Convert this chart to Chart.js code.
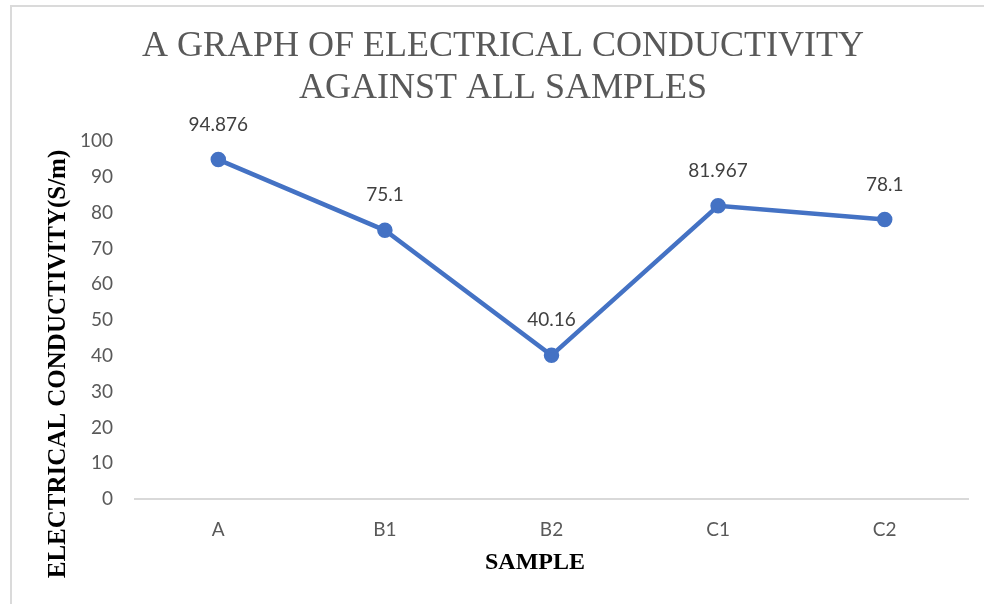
<!DOCTYPE html>
<html>
<head>
<meta charset="utf-8">
<script src="https://cdn.jsdelivr.net/npm/chart.js@4/dist/chart.umd.min.js"></script>
<style>
  html, body { margin: 0; padding: 0; background: #ffffff; overflow: hidden; }
  #frame { position: absolute; left: 10px; top: 5px; width: 2000px; height: 2000px;
           border-top: 2px solid #dadada; border-left: 2px solid #dadada; }
  #c { position: absolute; left: 0; top: 0; }
</style>
</head>
<body>
<div id="frame"></div>
<canvas id="c" width="984" height="604"></canvas>
<script>
const categories = ['A', 'B1', 'B2', 'C1', 'C2'];
const conductivity = [94.876, 75.1, 40.16, 81.967, 78.1];
const titleLines = ['A GRAPH OF ELECTRICAL CONDUCTIVITY', 'AGAINST ALL SAMPLES'];
const yAxisTitle = 'ELECTRICAL CONDUCTIVITY(S/m)';
const xAxisTitle = 'SAMPLE';
const yMin = 0, yMax = 100, yStep = 10;

const extras = {
  id: 'extras',
  afterDatasetsDraw(chart) {
    const ctx = chart.ctx;
    const meta = chart.getDatasetMeta(0);
    ctx.save();
    ctx.font = '19px Lato';
    ctx.fillStyle = '#404040';
    ctx.textAlign = 'center';
    ctx.textBaseline = 'middle';
    meta.data.forEach((pt, i) => {
      ctx.fillText(String(conductivity[i]), pt.x, pt.y - 35);
    });
    ctx.restore();
  },
  afterDraw(chart) {
    const ctx = chart.ctx;
    ctx.save();
    ctx.setTransform(1, 0, 0, 1, 0, 0);
    ctx.fillStyle = '#000000';
    ctx.font = 'bold 25px "Liberation Serif"';
    ctx.textAlign = 'center';
    ctx.textBaseline = 'alphabetic';
    ctx.translate(65, 364);
    ctx.rotate(-Math.PI / 2);
    ctx.fillText(yAxisTitle, 0, 0);
    ctx.restore();
    ctx.save();
    ctx.fillStyle = '#000000';
    ctx.font = 'bold 24px "Liberation Serif"';
    ctx.textAlign = 'center';
    ctx.textBaseline = 'middle';
    ctx.fillText(xAxisTitle, 535, 563);
    ctx.restore();
  }
};

new Chart(document.getElementById('c'), {
  type: 'line',
  data: {
    labels: categories,
    datasets: [{
      data: conductivity,
      borderColor: '#4472C4',
      backgroundColor: '#4472C4',
      borderWidth: 4.5,
      pointRadius: 5.5,
      pointBackgroundColor: '#4472C4',
      pointBorderColor: '#4472C4',
      tension: 0,
      fill: false
    }]
  },
  options: {
    responsive: false,
    devicePixelRatio: 1,
    animation: false,
    layout: { padding: { left: 38, right: 16, top: 0, bottom: 0 } },
    plugins: {
      legend: { display: false },
      tooltip: { enabled: false },
      title: {
        display: true,
        text: titleLines,
        color: '#595959',
        font: { family: '"Liberation Serif"', size: 36, weight: 'normal', lineHeight: 1.17 },
        padding: { top: 25, bottom: 32 }
      }
    },
    scales: {
      x: {
        type: 'category',
        offset: true,
        grid: { display: false, drawTicks: false },
        border: { display: true, color: '#d9d9d9', width: 2 },
        ticks: { color: '#595959', font: { family: 'Lato', size: 19 }, padding: 19, maxRotation: 0 },
        afterFit(s) { s.height = 105; }
      },
      y: {
        min: yMin,
        max: yMax,
        grid: { display: false, drawTicks: false },
        border: { display: false },
        ticks: { stepSize: yStep, color: '#595959', font: { family: 'Lato', size: 19 }, padding: 22 },
        afterFit(s) { s.width = 97; }
      }
    }
  },
  plugins: [extras]
});
</script>
</body>
</html>
